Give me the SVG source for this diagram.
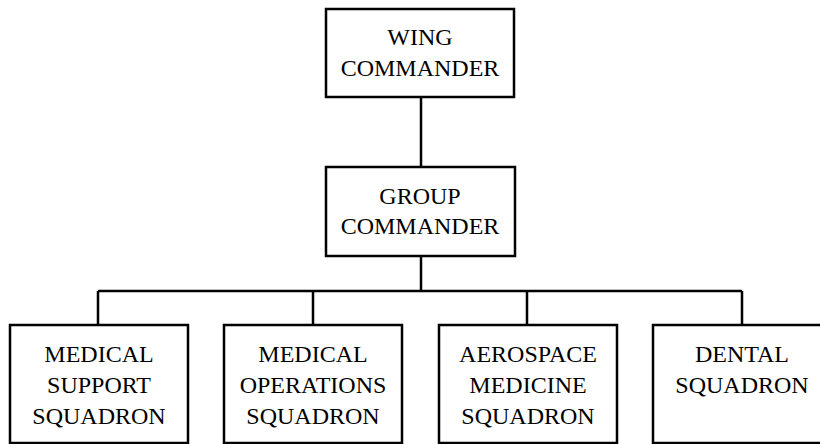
<svg xmlns="http://www.w3.org/2000/svg" width="820" height="444" viewBox="0 0 820 444">
<style>
.box{fill:#fff;stroke:#000;stroke-width:2.5}
.ln{fill:none;stroke:#000;stroke-width:2.5}
</style>
<rect width="820" height="444" fill="#fff"/>
<g id="connectors">
<path class="ln" d="M421 97V167"/>
<path class="ln" d="M421 256V291"/>
<path class="ln" d="M98 291H742"/>
<path class="ln" d="M98 291V325M313 291V325M527 291V325M742 291V325"/>
</g>
<g font-family="Liberation Serif" font-size="24" fill="#000" text-anchor="middle">
<g id="wing">
<rect class="box" x="326" y="9" width="188" height="88"/>
<text x="420" y="45">WING</text>
<text x="420" y="76">COMMANDER</text>
</g>
<g id="group">
<rect class="box" x="326" y="167" width="189" height="89"/>
<text x="420" y="204">GROUP</text>
<text x="420" y="234">COMMANDER</text>
</g>
<g id="mss">
<rect class="box" x="10" y="325" width="178" height="118"/>
<text x="99" y="362">MEDICAL</text>
<text x="99" y="393">SUPPORT</text>
<text x="99" y="424">SQUADRON</text>
</g>
<g id="mos">
<rect class="box" x="224" y="325" width="178" height="118"/>
<text x="313" y="362">MEDICAL</text>
<text x="313" y="393">OPERATIONS</text>
<text x="313" y="424">SQUADRON</text>
</g>
<g id="ams">
<rect class="box" x="439" y="325" width="178" height="118"/>
<text x="528" y="362">AEROSPACE</text>
<text x="528" y="393">MEDICINE</text>
<text x="528" y="424">SQUADRON</text>
</g>
<g id="ds">
<rect class="box" x="653" y="325" width="178" height="118"/>
<text x="742" y="362">DENTAL</text>
<text x="742" y="393">SQUADRON</text>
</g>
</g>
</svg>
